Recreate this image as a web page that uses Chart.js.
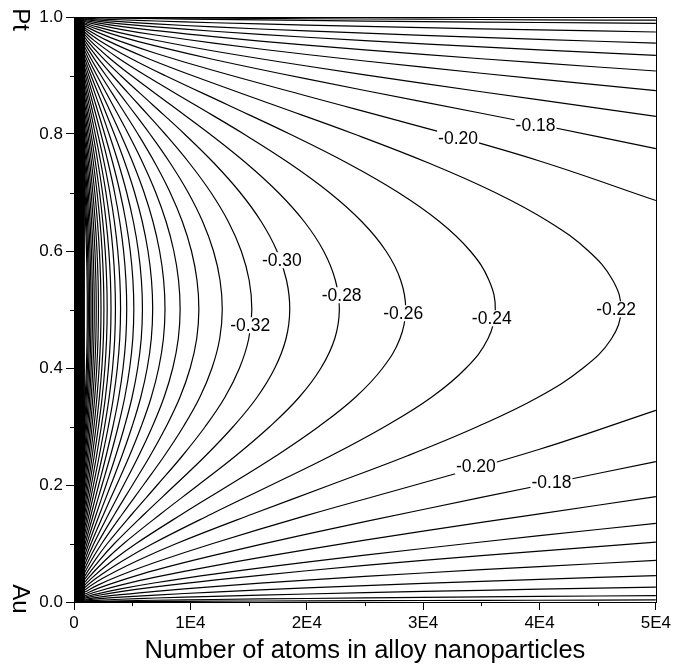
<!DOCTYPE html>
<html>
<head>
<meta charset="utf-8">
<script src="https://cdn.jsdelivr.net/npm/chart.js@4.4.1/dist/chart.umd.min.js"></script>
<style>
  html, body { margin: 0; padding: 0; background: #fff; }
  canvas { display: block; }
</style>
</head>
<body>
<canvas id="contourChart" width="674" height="666"></canvas>
<script>
// ========== DATOS ==========
// composiciones (eje y) donde se leen las curvas cerradas
const compositions = [0.01, 0.02, 0.04, 0.07, 0.1, 0.15, 0.2, 0.25, 0.3, 0.35, 0.4, 0.45, 0.5,
                      0.55, 0.6, 0.65, 0.7, 0.75, 0.8, 0.85, 0.9, 0.93, 0.96, 0.98, 0.99];

// niveles de las curvas cerradas (-0.22 ... -0.76)
const closedLevels = [-0.22, -0.24, -0.26, -0.28, -0.30, -0.32, -0.34, -0.36, -0.38, -0.40,
                      -0.42, -0.44, -0.46, -0.48, -0.50, -0.52, -0.54, -0.56, -0.58, -0.60,
                      -0.62, -0.64, -0.66, -0.68, -0.70, -0.72, -0.74, -0.76];

// numero de atomos de cada curva cerrada en cada composicion
const closedAtoms = [
  [317, 884, 2430, 5391, 8813, 15284, 22015, 28661, 34695, 39884, 43748, 46182, 47000, 46295, 44208, 40801, 36185, 30527, 24064, 17117, 10152, 6246, 2829, 1034, 371],
  [244, 681, 1872, 4152, 6788, 11772, 16956, 22075, 26723, 30719, 33695, 35570, 36200, 35657, 34050, 31425, 27870, 23512, 18534, 13184, 7819, 4811, 2179, 796, 286],
  [192, 536, 1473, 3269, 5344, 9268, 13349, 17379, 21039, 24185, 26528, 28004, 28500, 28073, 26807, 24741, 21942, 18511, 14592, 10380, 6156, 3788, 1716, 627, 225],
  [154, 429, 1179, 2615, 4275, 7415, 10680, 13903, 16831, 19348, 21222, 22403, 22800, 22458, 21446, 19793, 17554, 14809, 11674, 8304, 4925, 3030, 1373, 502, 180],
  [125, 349, 959, 2127, 3476, 6029, 8684, 11306, 13686, 15733, 17257, 18217, 18540, 18262, 17439, 16095, 14274, 12042, 9492, 6752, 4005, 2464, 1116, 408, 146],
  [103, 287, 790, 1753, 2865, 4969, 7157, 9318, 11280, 12967, 14223, 15014, 15280, 15051, 14372, 13265, 11764, 9924, 7823, 5565, 3300, 2031, 920, 336, 121],
  [86, 240, 659, 1461, 2389, 4143, 5967, 7769, 9405, 10811, 11858, 12518, 12740, 12549, 11983, 11060, 9809, 8275, 6523, 4640, 2752, 1693, 767, 280, 101],
  [72, 202, 555, 1231, 2012, 3489, 5026, 6543, 7921, 9105, 9987, 10543, 10730, 10569, 10093, 9315, 8261, 6969, 5494, 3908, 2318, 1426, 646, 236, 85],
  [61, 171, 471, 1046, 1710, 2966, 4272, 5561, 6732, 7739, 8489, 8961, 9120, 8983, 8578, 7917, 7021, 5923, 4669, 3322, 1970, 1212, 549, 201, 72],
  [53, 147, 404, 897, 1466, 2543, 3663, 4769, 5773, 6636, 7279, 7684, 7820, 7703, 7355, 6789, 6021, 5079, 4004, 2848, 1689, 1039, 471, 172, 62],
  [46, 127, 349, 775, 1268, 2198, 3166, 4122, 4990, 5737, 6292, 6642, 6760, 6659, 6358, 5868, 5205, 4391, 3461, 2462, 1460, 898, 407, 149, 53],
  [40, 111, 304, 674, 1103, 1912, 2754, 3586, 4341, 4990, 5473, 5778, 5880, 5792, 5531, 5104, 4527, 3819, 3011, 2141, 1270, 781, 354, 129, 46],
  [35, 97, 266, 590, 964, 1672, 2408, 3134, 3794, 4362, 4784, 5051, 5140, 5063, 4835, 4462, 3957, 3338, 2632, 1872, 1110, 683, 309, 113, 41],
  [31, 85, 234, 520, 849, 1473, 2122, 2762, 3344, 3844, 4217, 4451, 4530, 4462, 4261, 3932, 3488, 2942, 2319, 1650, 978, 602, 273, 100, 36],
  [27, 75, 207, 459, 750, 1301, 1874, 2439, 2953, 3394, 3723, 3930, 4000, 3940, 3762, 3472, 3080, 2598, 2048, 1457, 864, 532, 241, 88, 32],
  [24, 67, 184, 408, 668, 1158, 1668, 2171, 2628, 3021, 3314, 3498, 3560, 3507, 3349, 3090, 2741, 2312, 1823, 1297, 769, 473, 214, 78, 28],
  [21, 60, 164, 365, 596, 1034, 1490, 1939, 2347, 2699, 2960, 3125, 3180, 3132, 2991, 2761, 2448, 2065, 1628, 1158, 687, 423, 191, 70, 25],
  [19, 54, 147, 327, 534, 927, 1335, 1738, 2104, 2419, 2653, 2800, 2850, 2807, 2681, 2474, 2194, 1851, 1459, 1038, 616, 379, 172, 63, 23],
  [17, 48, 133, 295, 482, 836, 1204, 1567, 1897, 2181, 2392, 2525, 2570, 2531, 2417, 2231, 1979, 1669, 1316, 936, 555, 342, 155, 57, 20],
  [16, 44, 120, 266, 435, 754, 1087, 1415, 1713, 1969, 2159, 2280, 2320, 2285, 2182, 2014, 1786, 1507, 1188, 845, 501, 308, 140, 51, 18],
  [14, 39, 109, 241, 394, 683, 984, 1281, 1550, 1782, 1955, 2063, 2100, 2069, 1975, 1823, 1617, 1364, 1075, 765, 454, 279, 126, 46, 17],
  [13, 36, 99, 219, 358, 621, 895, 1165, 1410, 1621, 1778, 1877, 1910, 1881, 1797, 1658, 1471, 1241, 978, 696, 413, 254, 115, 42, 15],
  [12, 33, 90, 200, 326, 566, 815, 1061, 1284, 1477, 1620, 1710, 1740, 1714, 1637, 1510, 1340, 1130, 891, 634, 376, 231, 105, 38, 14],
  [11, 30, 82, 182, 298, 517, 745, 970, 1174, 1349, 1480, 1562, 1590, 1566, 1496, 1380, 1224, 1033, 814, 579, 343, 211, 96, 35, 13],
  [10, 27, 75, 167, 274, 475, 684, 890, 1078, 1239, 1359, 1435, 1460, 1438, 1373, 1267, 1124, 948, 748, 532, 315, 194, 88, 32, 12],
  [9, 25, 69, 154, 251, 436, 628, 817, 989, 1137, 1247, 1317, 1340, 1320, 1260, 1163, 1032, 870, 686, 488, 289, 178, 81, 29, 11],
  [8, 23, 64, 142, 232, 402, 578, 753, 912, 1048, 1150, 1214, 1235, 1216, 1162, 1072, 951, 802, 632, 450, 267, 164, 74, 27, 10],
  [8, 21, 59, 131, 214, 371, 534, 695, 842, 967, 1061, 1120, 1140, 1123, 1072, 990, 878, 740, 584, 415, 246, 152, 69, 25, 9]
];

// curvas abiertas (salen por el borde derecho): se leen por numero de atomos
const branchAtoms = [950, 2000, 4000, 7000, 12000, 20000, 30000, 40000, 50000];
const openLevels = [-0.20, -0.18, -0.16, -0.14, -0.12, -0.10, -0.08, -0.06, -0.04, -0.02];

// rama superior (lado Pt)
const upperBranch = [
  [0.9844, 0.9742, 0.9583, 0.9381, 0.9085, 0.8649, 0.8112, 0.7539, 0.6863],
  [0.9874, 0.9792, 0.9665, 0.9505, 0.9274, 0.8941, 0.8549, 0.8158, 0.7750],
  [0.9898, 0.9831, 0.9729, 0.9602, 0.9419, 0.9162, 0.8865, 0.8582, 0.8300],
  [0.9920, 0.9869, 0.9790, 0.9692, 0.9554, 0.9359, 0.9142, 0.8938, 0.8741],
  [0.9940, 0.9901, 0.9841, 0.9768, 0.9663, 0.9520, 0.9361, 0.9215, 0.9077],
  [0.9956, 0.9928, 0.9884, 0.9831, 0.9756, 0.9654, 0.9541, 0.9439, 0.9343],
  [0.9969, 0.9950, 0.9920, 0.9882, 0.9831, 0.9762, 0.9686, 0.9617, 0.9554],
  [0.9982, 0.9970, 0.9953, 0.9932, 0.9902, 0.9862, 0.9818, 0.9779, 0.9744],
  [0.9992, 0.9987, 0.9980, 0.9971, 0.9959, 0.9941, 0.9922, 0.9906, 0.9891],
  [0.9995, 0.9992, 0.9990, 0.9985, 0.9980, 0.9970, 0.9962, 0.9952, 0.9945]
];

// rama inferior (lado Au)
const lowerBranch = [
  [0.0171, 0.0284, 0.0457, 0.0679, 0.1005, 0.1481, 0.2038, 0.2611, 0.3277],
  [0.0136, 0.0228, 0.0365, 0.0545, 0.0796, 0.1159, 0.1581, 0.1992, 0.2400],
  [0.0109, 0.0180, 0.0289, 0.0426, 0.0619, 0.0894, 0.1212, 0.1507, 0.1800],
  [0.0086, 0.0140, 0.0224, 0.0329, 0.0478, 0.0683, 0.0915, 0.1133, 0.1345],
  [0.0067, 0.0111, 0.0177, 0.0257, 0.0373, 0.0534, 0.0711, 0.0869, 0.1025],
  [0.0047, 0.0079, 0.0125, 0.0183, 0.0264, 0.0374, 0.0496, 0.0606, 0.0710],
  [0.0031, 0.0052, 0.0082, 0.0118, 0.0170, 0.0242, 0.0317, 0.0388, 0.0452],
  [0.0018, 0.0029, 0.0047, 0.0068, 0.0097, 0.0137, 0.0180, 0.0219, 0.0254],
  [0.0008, 0.0013, 0.0021, 0.0030, 0.0043, 0.0060, 0.0079, 0.0095, 0.0110],
  [0.0003, 0.0005, 0.0006, 0.0009, 0.0014, 0.0020, 0.0026, 0.0030, 0.0036]
];

// franja negra donde las curvas se juntan
const bandEdge = 940;

// etiquetas de las curvas
const labelTexts = ['-0.32', '-0.30', '-0.28', '-0.26', '-0.24', '-0.22', '-0.20', '-0.18', '-0.20', '-0.18'];
const labelAtoms = [15140, 17860, 23000, 28290, 35900, 46580, 33000, 39660, 34530, 41030];
const labelComps = [0.4731, 0.5842, 0.5244, 0.4936, 0.4850, 0.5004, 0.7930, 0.8152, 0.2318, 0.2044];

// ejes
const xTickLabels = ['0', '1E4', '2E4', '3E4', '4E4', '5E4'];
const xTitle = 'Number of atoms in alloy nanoparticles';
const topElement = 'Pt';
const bottomElement = 'Au';

// ========== GRAFICO ==========
const FONT = "'Liberation Sans', Arial, Helvetica, sans-serif";

const lineStyle = {
    showLine: true,
    pointRadius: 0,
    borderColor: '#000',
    borderWidth: 1.2,
    tension: 0.4,
    fill: false
};

const datasets = [];

// la franja va primero para quedar encima de las curvas
datasets.push({
    showLine: true,
    pointRadius: 0,
    borderWidth: 0,
    borderColor: '#000',
    backgroundColor: '#000',
    fill: 'origin',
    data: [{ x: 0, y: 1 }, { x: bandEdge, y: 1 }]
});

closedAtoms.forEach((row, k) => {
    datasets.push({
        ...lineStyle,
        label: String(closedLevels[k]),
        data: row.map((n, i) => ({ x: n, y: compositions[i] }))
    });
});

[upperBranch, lowerBranch].forEach(branch => {
    branch.forEach((row, k) => {
        datasets.push({
            ...lineStyle,
            label: String(openLevels[k]),
            data: row.map((c, i) => ({ x: branchAtoms[i], y: c }))
        });
    });
});

const extrasPlugin = {
    id: 'extras',
    afterDatasetsDraw(chart) {
        const { ctx } = chart;
        const xs = chart.scales.x;
        const ys = chart.scales.y;
        ctx.save();
        ctx.font = `17.5px ${FONT}`;
        ctx.textAlign = 'center';
        ctx.textBaseline = 'middle';
        labelTexts.forEach((t, i) => {
            const px = xs.getPixelForValue(labelAtoms[i]);
            const py = ys.getPixelForValue(labelComps[i]);
            const w = ctx.measureText(t).width;
            ctx.fillStyle = '#fff';
            ctx.fillRect(px - w / 2 - 1, py - 8, w + 2, 16);
            ctx.fillStyle = '#000';
            ctx.fillText(t, px, py + 1);
        });
        ctx.restore();
    },
    afterDraw(chart) {
        const { ctx, chartArea: a } = chart;
        const xs = chart.scales.x;
        const ys = chart.scales.y;
        ctx.save();
        ctx.strokeStyle = '#000';
        ctx.lineWidth = 1;
        // marco
        ctx.strokeRect(Math.round(a.left) + 0.5, Math.round(a.top) + 0.5,
                       Math.round(a.right - a.left), Math.round(a.bottom - a.top));
        // marcas menores
        ctx.beginPath();
        for (let v = 5000; v < 50000; v += 10000) {
            const px = Math.round(xs.getPixelForValue(v)) + 0.5;
            ctx.moveTo(px, a.bottom);
            ctx.lineTo(px, a.bottom + 4);
        }
        for (let v = 0.1; v < 1; v += 0.2) {
            const py = Math.round(ys.getPixelForValue(v)) + 0.5;
            ctx.moveTo(a.left, py);
            ctx.lineTo(a.left - 4, py);
        }
        ctx.stroke();
        // elementos en el eje y
        ctx.fillStyle = '#000';
        ctx.font = `24px ${FONT}`;
        ctx.textAlign = 'center';
        ctx.textBaseline = 'middle';
        [[topElement, ys.getPixelForValue(1) + 2.5], [bottomElement, ys.getPixelForValue(0) - 3]].forEach(([t, py]) => {
            ctx.save();
            ctx.translate(19.5, py);
            ctx.rotate(Math.PI / 2);
            ctx.fillText(t, 0, 0);
            ctx.restore();
        });
        ctx.restore();
    }
};

new Chart(document.getElementById('contourChart'), {
    type: 'scatter',
    data: { datasets },
    options: {
        responsive: false,
        animation: false,
        layout: { padding: { left: 0, right: 15, top: 17, bottom: 0 } },
        plugins: {
            legend: { display: false },
            tooltip: { enabled: false }
        },
        scales: {
            x: {
                type: 'linear',
                min: 0,
                max: 50000,
                ticks: {
                    stepSize: 10000,
                    autoSkip: false,
                    maxRotation: 0,
                    padding: 3,
                    color: '#000',
                    font: { size: 17, family: FONT },
                    callback: (v, i) => xTickLabels[i]
                },
                grid: { display: true, drawOnChartArea: false, drawTicks: true, tickLength: 8, color: '#000' },
                border: { display: true, color: '#000', width: 1 },
                title: {
                    display: true,
                    text: xTitle,
                    color: '#000',
                    font: { size: 25.5, family: FONT },
                    padding: { top: 0, bottom: 0 }
                },
                afterFit: s => { s.height = 64; }
            },
            y: {
                type: 'linear',
                min: 0,
                max: 1,
                ticks: {
                    stepSize: 0.2,
                    padding: 3,
                    color: '#000',
                    font: { size: 17, family: FONT },
                    callback: v => v.toFixed(1)
                },
                grid: { display: true, drawOnChartArea: false, drawTicks: true, tickLength: 8, color: '#000' },
                border: { display: true, color: '#000', width: 1 },
                afterFit: s => { s.width = 74; }
            }
        }
    },
    plugins: [extrasPlugin]
});
</script>
</body>
</html>
